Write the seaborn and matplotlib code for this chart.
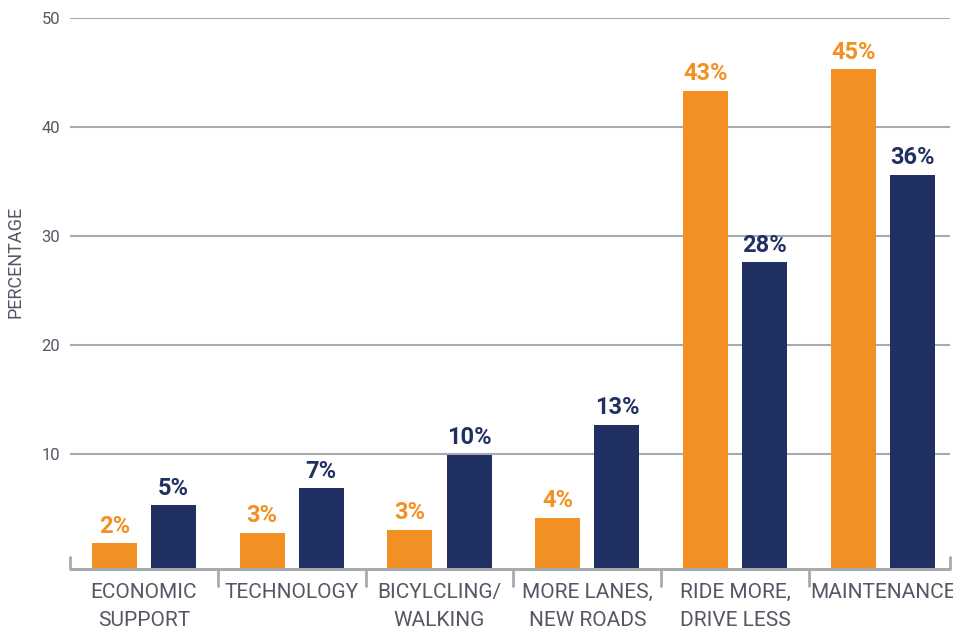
import matplotlib
matplotlib.use("Agg")
import matplotlib.pyplot as plt
import seaborn as sns
import pandas as pd
from matplotlib import font_manager

categories = ["ECONOMIC\nSUPPORT", "TECHNOLOGY", "BICYLCLING/\nWALKING",
              "MORE LANES,\nNEW ROADS", "RIDE MORE,\nDRIVE LESS", "MAINTENANCE"]
series_names = ["Series A", "Series B"]
orange_values = [1.8, 2.75, 3.05, 4.15, 43.3, 45.3]
navy_values = [5.3, 6.85, 9.95, 12.7, 27.6, 35.6]
orange_labels = ["2%", "3%", "3%", "4%", "43%", "45%"]
navy_labels = ["5%", "7%", "10%", "13%", "28%", "36%"]
y_ticks = [10, 20, 30, 40, 50]

ORANGE = "#F29023"
NAVY = "#213062"
GRID = "#A7ABAF"
TXT = "#565665"

available = {f.name for f in font_manager.fontManager.ttflist}
narrow = "Liberation Sans Narrow" if "Liberation Sans Narrow" in available else "Roboto"

sns.set_style("white")
plt.rcParams["font.family"] = ["Roboto", "DejaVu Sans"]

df = pd.DataFrame({
    "category": categories * 2,
    "series": [series_names[0]] * len(categories) + [series_names[1]] * len(categories),
    "value": orange_values + navy_values,
})

W, H = 954, 629
fig = plt.figure(figsize=(W / 100, H / 100), dpi=100)
left, right, bottom_px, top_px = 70, 950, 569, 18
ax = fig.add_axes([left / W, (H - bottom_px) / H, (right - left) / W, (bottom_px - top_px) / H])

sns.barplot(data=df, x="category", y="value", hue="series", order=categories,
            hue_order=series_names, palette=[ORANGE, NAVY], width=0.8, gap=0.24,
            legend=False, ax=ax, saturation=1, linewidth=0)

ymin = -0.55
ax.set_ylim(ymin, 50)
ax.set_xlim(-0.5, 5.454)

# extend bars down to the baseline line
for cont in ax.containers:
    for p in cont.patches:
        h = p.get_height()
        p.set_y(ymin)
        p.set_height(h - ymin)

for cont, labs, col in zip(ax.containers, [orange_labels, navy_labels], [ORANGE, NAVY]):
    ax.bar_label(cont, labels=labs, padding=4, color=col, fontsize=17,
                 fontweight="bold", family=[narrow, "DejaVu Sans"])

for s in ["top", "right", "left", "bottom"]:
    ax.spines[s].set_visible(False)

ax.set_yticks(y_ticks)
ax.set_yticklabels([str(t) for t in y_ticks], color=TXT, fontsize=12)
ax.tick_params(axis="y", length=0, pad=7)
for t in y_ticks:
    ax.axhline(t, color=GRID, lw=1.5, zorder=0)

# baseline
ax.plot([-0.5, 5.454], [ymin, ymin], color=GRID, lw=2.2, clip_on=False, zorder=3,
        solid_capstyle="butt")
trans = ax.get_xaxis_transform()
for xe in [-0.5, 5.454]:
    ax.plot([xe, xe], [0, 12 / (bottom_px - top_px)], color=GRID, lw=2, transform=trans,
            clip_on=False)
for xs in [0.5, 1.5, 2.5, 3.5, 4.5]:
    ax.plot([xs, xs], [0, -17 / (bottom_px - top_px)], color=GRID, lw=2, transform=trans,
            clip_on=False)

ax.set_xticks(range(len(categories)))
ax.set_xticklabels(categories, color=TXT, fontsize=15, family=[narrow, "DejaVu Sans"],
                   linespacing=1.6, va="top")
ax.tick_params(axis="x", length=0, pad=10)
ax.set_xlabel("")
ax.set_ylabel("PERCENTAGE", color=TXT, fontsize=13)
ax.yaxis.set_label_coords(-46 / (right - left), (bottom_px - 262) / (bottom_px - top_px))

fig.savefig("out.png", dpi=100)
